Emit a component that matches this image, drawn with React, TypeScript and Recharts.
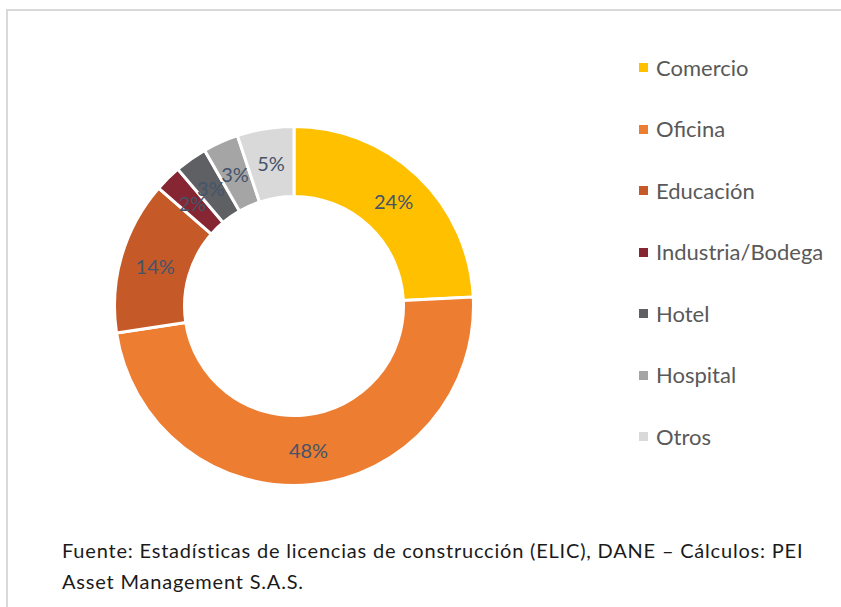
import React from "react";
import { PieChart, Pie, Cell, Legend } from "recharts";

const categories = ["Comercio", "Oficina", "Educación", "Industria/Bodega", "Hotel", "Hospital", "Otros"];
const shares = [24.2, 48.4, 13.8, 2.4, 2.9, 3.2, 5.1];
const colors = ["#FFC000", "#ED7D31", "#C55A28", "#862633", "#5E6064", "#A5A5A5", "#D9D9D9"];
const footnoteLines = [
  "Fuente: Estadísticas de licencias de construcción (ELIC), DANE – Cálculos: PEI",
  "Asset Management S.A.S.",
];

const data = categories.map((name, i) => ({ name, value: shares[i] }));
const RADIAN = Math.PI / 180;
const FONT = "Lato, 'Open Sans', sans-serif";

const renderLabel = (props: any) => {
  const { cx, cy, midAngle, innerRadius, outerRadius, percent } = props;
  const r = (innerRadius + outerRadius) / 2;
  const x = cx + r * Math.cos(-midAngle * RADIAN);
  const y = cy + r * Math.sin(-midAngle * RADIAN);
  return (
    <text x={x} y={y} fill="#44546A" fontSize={20} fontFamily={FONT} textAnchor="middle" dominantBaseline="central">
      {`${Math.round(percent * 100)}%`}
    </text>
  );
};

const renderLegend = () => (
  <div style={{ fontFamily: FONT }}>
    {data.map((d, i) => (
      <div key={d.name} style={{ height: 61.5, display: "flex", alignItems: "center" }}>
        <span style={{ width: 9, height: 9, background: colors[i], display: "inline-block", marginRight: 8 }} />
        <span style={{ fontSize: 22, color: "#595959", lineHeight: "22px" }}>{d.name}</span>
      </div>
    ))}
  </div>
);

export default function App() {
  return (
    <div style={{ position: "absolute", left: 0, top: 0, width: 841, height: 607, background: "#fff", overflow: "hidden", fontFamily: FONT }}>
      <div style={{ position: "absolute", left: 6, top: 9, width: 860, height: 2, background: "#D9D9D9" }} />
      <div style={{ position: "absolute", left: 6, top: 9, width: 2, height: 620, background: "#D9D9D9" }} />
      <div style={{ position: "absolute", left: 0, top: 0 }}>
        <PieChart width={841} height={607} margin={{ top: 0, right: 0, bottom: 0, left: 0 }}>
          <Pie
            data={data}
            dataKey="value"
            nameKey="name"
            cx={294}
            cy={306}
            innerRadius={109.5}
            outerRadius={179.5}
            startAngle={90}
            endAngle={-270}
            stroke="#FFFFFF"
            strokeWidth={3}
            label={renderLabel}
            labelLine={false}
            isAnimationActive={false}
          >
            {data.map((d, i) => (
              <Cell key={d.name} fill={colors[i]} />
            ))}
          </Pie>
          <Legend
            content={renderLegend}
            wrapperStyle={{ position: "absolute", left: 639, top: 37, width: 200, height: 431 }}
          />
        </PieChart>
      </div>
      <div style={{ position: "absolute", left: 62, top: 535, fontSize: 20, letterSpacing: 0.8, lineHeight: "31px", color: "#1A1A1A", whiteSpace: "nowrap" }}>
        {footnoteLines.map((t) => (
          <div key={t}>{t}</div>
        ))}
      </div>
    </div>
  );
}
